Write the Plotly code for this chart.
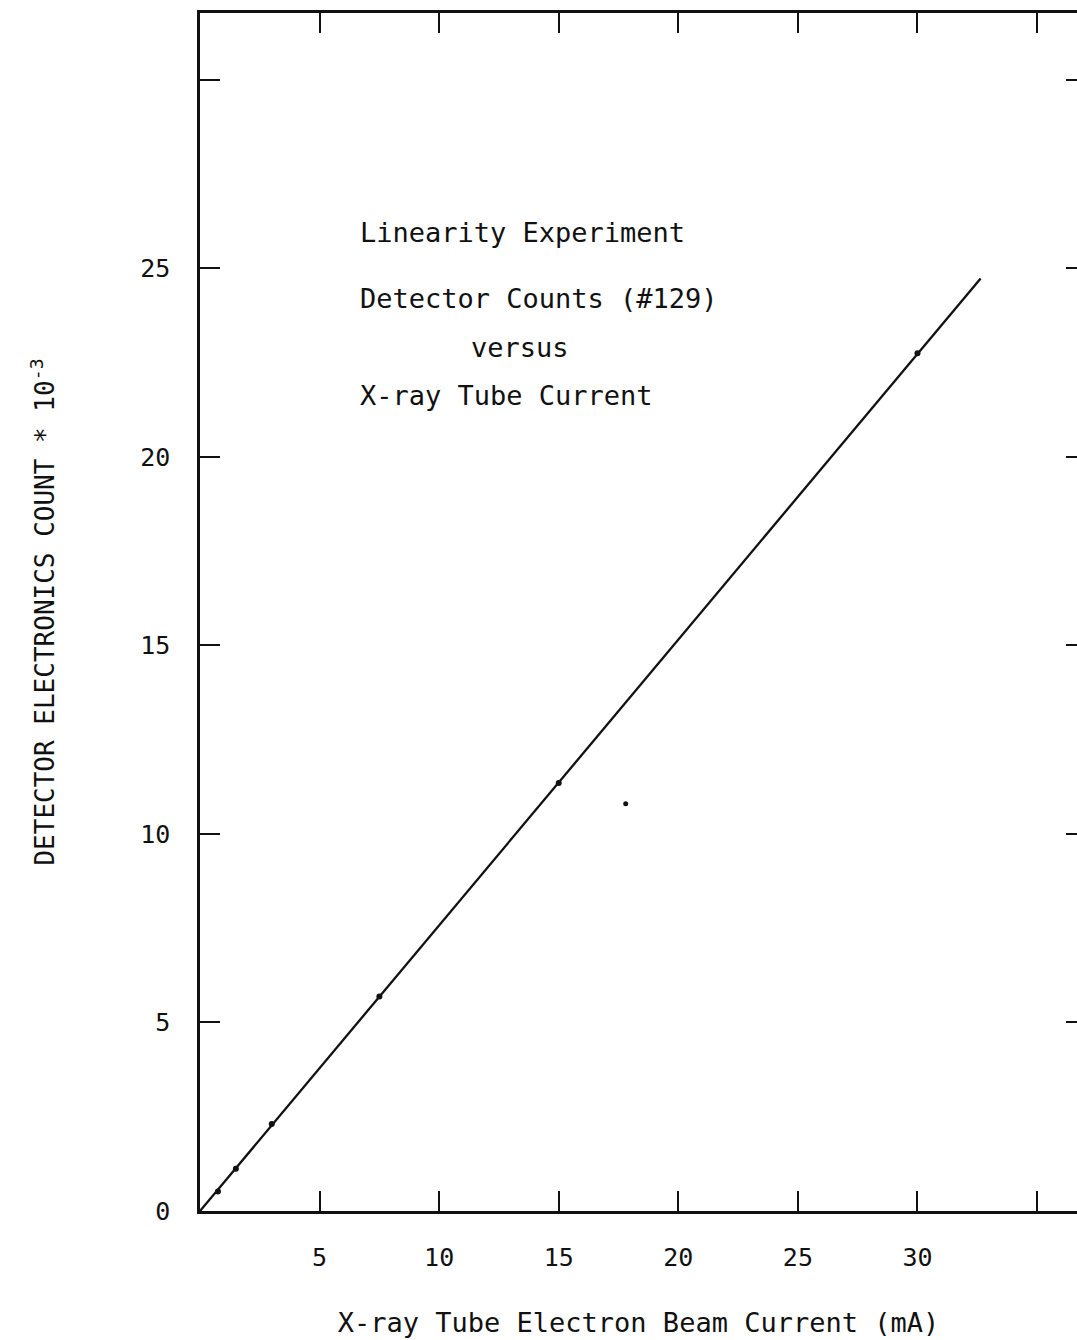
import plotly.graph_objects as go

# Measured points (beam current mA, detector count * 1e-3)
current_ma = [0.75, 1.5, 3.0, 7.5, 15.0, 30.0]
counts_k = [0.52, 1.12, 2.31, 5.69, 11.35, 22.75]

# Fitted straight line
fit_x = [0.0, 32.64]
fit_y = [0.0, 24.73]

# Isolated dot in the field
stray_x = [17.8]
stray_y = [10.8]

x_tickvals = [5, 10, 15, 20, 25, 30]
x_ticktext = ["5", "10", "15", "20", "25", "30"]
x_unlabeled_ticks = [35]
y_tickvals = [0, 5, 10, 15, 20, 25]
y_ticktext = ["0", "5", "10", "15", "20", "25"]
y_unlabeled_ticks = [30]

FONT = "DejaVu Sans Mono"
INK = "#111111"

fig = go.Figure()
fig.add_trace(go.Scatter(x=fit_x, y=fit_y, mode="lines",
                         line=dict(color=INK, width=2.3), hoverinfo="skip"))
fig.add_trace(go.Scatter(x=current_ma, y=counts_k, mode="markers",
                         marker=dict(color=INK, size=6)))
fig.add_trace(go.Scatter(x=stray_x, y=stray_y, mode="markers",
                         marker=dict(color=INK, size=5)))
fig.add_trace(go.Scatter(x=fit_x, y=fit_y, mode="lines", yaxis="y2",
                         line=dict(width=0), opacity=0, hoverinfo="skip"))

xr = [0, 36.67]
yr = [0, 31.77]

fig.update_layout(
    width=1077, height=1340,
    margin=dict(l=200, r=0, t=13, b=129),
    paper_bgcolor="white", plot_bgcolor="white",
    showlegend=False,
    font=dict(family=FONT, color=INK, size=25),
    xaxis=dict(range=xr, tickvals=x_tickvals, ticktext=x_ticktext,
               ticks="inside", ticklen=20, tickwidth=2, tickcolor=INK,
               minor=dict(tickvals=x_unlabeled_ticks, ticks="inside",
                          ticklen=20, tickwidth=2, tickcolor=INK),
               showline=True, linewidth=2.5, linecolor=INK, mirror="ticks",
               showgrid=False, zeroline=False, ticklabelstandoff=22,
               tickfont=dict(size=25),
               title=dict(text="X-ray Tube Electron Beam Current (mA)",
                          font=dict(size=27), standoff=43)),
    yaxis=dict(range=yr, tickvals=y_tickvals, ticktext=y_ticktext,
               ticks="inside", ticklen=20, tickwidth=2, tickcolor=INK,
               minor=dict(tickvals=y_unlabeled_ticks, ticks="inside",
                          ticklen=20, tickwidth=2, tickcolor=INK),
               showline=True, linewidth=2.5, linecolor=INK, mirror=False,
               showgrid=False, zeroline=False, ticklabelstandoff=22,
               tickfont=dict(size=25),
               title=dict(text="DETECTOR ELECTRONICS COUNT * 10<sup>-3</sup>",
                          font=dict(size=26), standoff=79)),
    yaxis2=dict(range=yr, overlaying="y", side="right",
                tickvals=y_tickvals + y_unlabeled_ticks,
                ticks="inside", ticklen=11, tickwidth=2, tickcolor=INK,
                showticklabels=False, showline=False, showgrid=False,
                zeroline=False),
)

ann_font = dict(family=FONT, size=27, color=INK)
fig.add_annotation(xref="paper", yref="paper", x=0.18, y=0.817,
                   xanchor="left", yanchor="middle", showarrow=False,
                   text="Linearity Experiment", font=ann_font)
fig.add_annotation(xref="paper", yref="paper", x=0.18, y=0.762,
                   xanchor="left", yanchor="middle", showarrow=False,
                   text="Detector Counts (#129)", font=ann_font)
fig.add_annotation(xref="paper", yref="paper", x=0.365, y=0.721,
                   xanchor="center", yanchor="middle", showarrow=False,
                   text="versus", font=ann_font)
fig.add_annotation(xref="paper", yref="paper", x=0.18, y=0.681,
                   xanchor="left", yanchor="middle", showarrow=False,
                   text="X-ray Tube Current", font=ann_font)

fig.write_html("out.html")
